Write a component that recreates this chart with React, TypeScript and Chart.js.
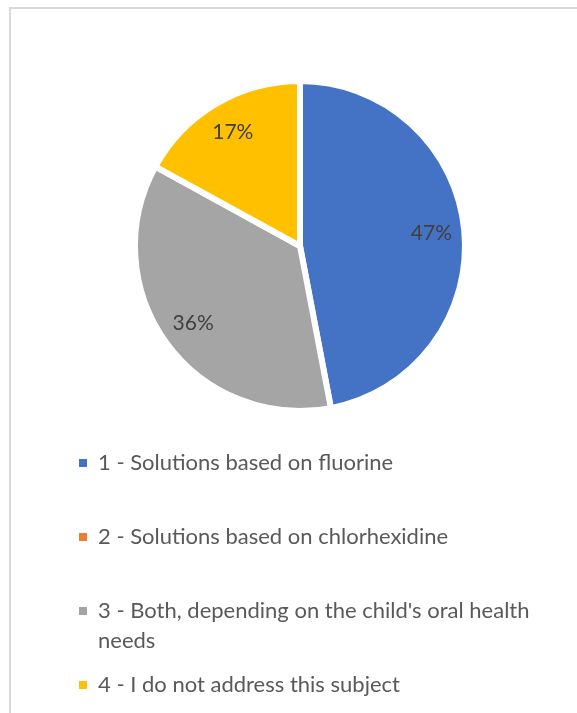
import React, { useEffect, useRef } from "react";
import { Chart, registerables } from "chart.js";

Chart.register(...registerables);

const categories: (string | string[])[] = [
  "1 - Solutions based on fluorine",
  "2 - Solutions based on chlorhexidine",
  ["3 - Both, depending on the child's oral health", "needs"],
  "4 - I do not address this subject",
];
const values = [47, 0, 36, 17];
const colors = ["#4472C4", "#ED7D31", "#A5A5A5", "#FFC000"];

const FONT = "Lato";
const LEGEND_SIZE = 22;
const LEGEND_PAD = 52;

const labelPlugin = {
  id: "pctLabels",
  afterDatasetsDraw(chart: any) {
    const ctx = chart.ctx;
    const meta = chart.getDatasetMeta(0);
    const data = chart.data.datasets[0].data as number[];
    const total = data.reduce((a, b) => a + b, 0);
    ctx.save();
    ctx.font = `21px ${FONT}`;
    ctx.fillStyle = "#404040";
    ctx.textAlign = "center";
    ctx.textBaseline = "middle";
    meta.data.forEach((el: any, i: number) => {
      const v = data[i];
      if (!v) return;
      const p = el.getProps(["x", "y", "startAngle", "endAngle", "outerRadius"], true);
      const a = (p.startAngle + p.endAngle) / 2;
      const r = p.outerRadius * 0.8;
      ctx.fillText(Math.round((v / total) * 100) + "%", p.x + Math.cos(a) * r, p.y + Math.sin(a) * r);
    });
    ctx.restore();
  },
};

export default function App() {
  const ref = useRef<HTMLCanvasElement>(null);
  useEffect(() => {
    if (!ref.current) return;
    const chart = new Chart(ref.current, {
      type: "pie",
      data: {
        labels: categories as any,
        datasets: [
          {
            data: values,
            backgroundColor: colors,
            borderColor: "#ffffff",
            borderWidth: 6,
            clip: false as any,
          },
        ],
      },
      options: {
        responsive: false,
        animation: false,
        radius: 165,
        layout: { padding: { top: 92, bottom: 7, left: 27, right: 4 } },
        plugins: {
          tooltip: { enabled: false },
          legend: {
            position: "bottom",
            align: "start",
            labels: {
              boxWidth: 8,
              boxHeight: 8,
              padding: LEGEND_PAD,
              color: "#595959",
              font: { family: FONT, size: LEGEND_SIZE, lineHeight: 1.35 },
              generateLabels: () =>
                categories.map((t, i) => ({
                  text: t as any,
                  fillStyle: colors[i],
                  strokeStyle: colors[i],
                  lineWidth: 0,
                  hidden: false,
                  index: i,
                  fontColor: "#595959",
                })),
            },
          },
        },
      } as any,
      plugins: [labelPlugin],
    });
    return () => chart.destroy();
  }, []);
  return (
    <div style={{ position: "fixed", left: 0, top: 0, width: 577, height: 713, background: "#fff", overflow: "hidden" }}>
      <div
        style={{
          position: "absolute",
          left: 9,
          top: 7,
          width: 700,
          height: 800,
          borderTop: "2px solid #d9d9d9",
          borderLeft: "2px solid #d9d9d9",
        }}
      />
      <canvas ref={ref} width={577} height={713} style={{ position: "absolute", left: 0, top: 0 }} />
    </div>
  );
}
